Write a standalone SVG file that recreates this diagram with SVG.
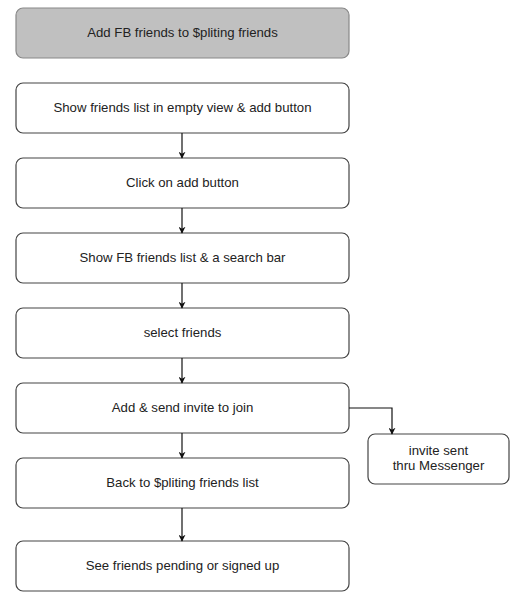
<svg xmlns="http://www.w3.org/2000/svg" width="518" height="612" viewBox="0 0 518 612">
<defs>
<style>
.box{fill:#fff;stroke:#444;stroke-width:1.2}
.title{fill:#c0c0c0;stroke:#888;stroke-width:1.2}
text{font-family:"Liberation Sans",Arial,sans-serif;font-size:13.2px;fill:#222;text-anchor:middle}
.c{fill:none;stroke:#111;stroke-width:1.2}
</style>
<marker id="ah" viewBox="0 0 10 10" refX="9" refY="5" markerWidth="7" markerHeight="7" markerUnits="userSpaceOnUse" orient="auto">
<path d="M0,0 L10,5 L0,10 L3,5 Z" fill="#111"/>
</marker>
</defs>
<rect width="518" height="612" fill="#fff"/>
<g id="n0"><rect class="title" x="16" y="8" width="333" height="50" rx="7"/><text x="182.5" y="37">Add FB friends to $pliting friends</text></g>
<g id="n1"><rect class="box" x="16" y="83" width="333" height="50" rx="7"/><text x="182.5" y="112">Show friends list in empty view &amp; add button</text></g>
<g id="n2"><rect class="box" x="16" y="158" width="333" height="50" rx="7"/><text x="182.5" y="187">Click on add button</text></g>
<g id="n3"><rect class="box" x="16" y="233" width="333" height="50" rx="7"/><text x="182.5" y="262">Show FB friends list &amp; a search bar</text></g>
<g id="n4"><rect class="box" x="16" y="308" width="333" height="50" rx="7"/><text x="182.5" y="337">select friends</text></g>
<g id="n5"><rect class="box" x="16" y="383" width="333" height="50" rx="7"/><text x="182.5" y="412">Add &amp; send invite to join</text></g>
<g id="n6"><rect class="box" x="16" y="458" width="333" height="50" rx="7"/><text x="182.5" y="487">Back to $pliting friends list</text></g>
<g id="n7"><rect class="box" x="16" y="541" width="333" height="50" rx="7"/><text x="182.5" y="570">See friends pending or signed up</text></g>
<g id="n8"><rect class="box" x="368" y="434" width="141" height="50" rx="7"/><text x="438.5" y="455">invite sent</text><text x="438.5" y="470">thru Messenger</text></g>
<g id="connectors">
<path class="c" d="M182,133 V158" marker-end="url(#ah)"/>
<path class="c" d="M182,208 V233" marker-end="url(#ah)"/>
<path class="c" d="M182,283 V308" marker-end="url(#ah)"/>
<path class="c" d="M182,358 V383" marker-end="url(#ah)"/>
<path class="c" d="M182,433 V458" marker-end="url(#ah)"/>
<path class="c" d="M182,508 V541" marker-end="url(#ah)"/>
<path class="c" d="M349,408 H392 V434" marker-end="url(#ah)"/>
</g>
</svg>
